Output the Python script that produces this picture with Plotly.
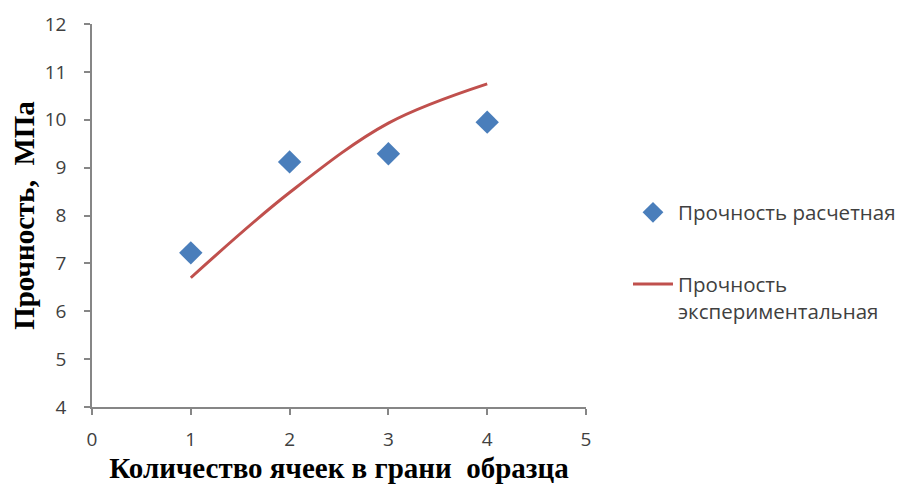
import plotly.graph_objects as go

cells = [1, 2, 3, 4]
strength_calc = [7.22, 9.12, 9.29, 9.95]
strength_exp = [6.70, 8.48, 9.93, 10.75]

x_ticks = [0, 1, 2, 3, 4, 5]
y_ticks = [4, 5, 6, 7, 8, 9, 10, 11, 12]

fig = go.Figure()
fig.add_trace(go.Scatter(
    x=cells, y=strength_calc, mode="markers", name="Прочность расчетная",
    legendgroup="a",
    marker=dict(symbol="diamond", size=18, color="#4a7ebb"),
))
fig.add_trace(go.Scatter(
    x=cells, y=strength_exp, mode="lines", name="Прочность<br>экспериментальная",
    legendgroup="b",
    line=dict(color="#c0504d", width=3, shape="spline", smoothing=1.0),
))

tick_font = dict(family="Open Sans, sans-serif", size=19, color="#404040")
title_font = dict(family="Liberation Serif, Times New Roman, serif", size=29, color="#000000")

fig.update_layout(
    width=903, height=491,
    margin=dict(l=84, r=325, t=16, b=92, autoexpand=False),
    paper_bgcolor="white", plot_bgcolor="white",
    showlegend=True,
    legend=dict(
        x=1.085, y=0.56, xanchor="left", yanchor="top",
        font=dict(family="Open Sans, sans-serif", size=20.5, color="#404040"),
        traceorder="grouped", tracegroupgap=42, itemwidth=40, valign="top",
    ),
    xaxis=dict(
        range=[0, 5], tickvals=x_ticks, showgrid=False, zeroline=False,
        showline=True, linecolor="#868686", linewidth=1.5,
        ticks="outside", ticklen=6, tickcolor="#868686", tickwidth=1.5,
        tickfont=tick_font, ticklabelstandoff=8, automargin=False,
        title=dict(text="<b>Количество ячеек в грани  образца</b>", font=title_font, standoff=2),
    ),
    yaxis=dict(
        range=[4, 12], tickvals=y_ticks, showgrid=False, zeroline=False,
        showline=True, linecolor="#868686", linewidth=1.5,
        ticks="outside", ticklen=6, tickcolor="#868686", tickwidth=1.5,
        tickfont=tick_font, ticklabelstandoff=14, automargin=False,
        title=dict(text="<b>Прочность,  МПа</b>", font=title_font, standoff=18),
    ),
)

fig.write_html("out.html")
